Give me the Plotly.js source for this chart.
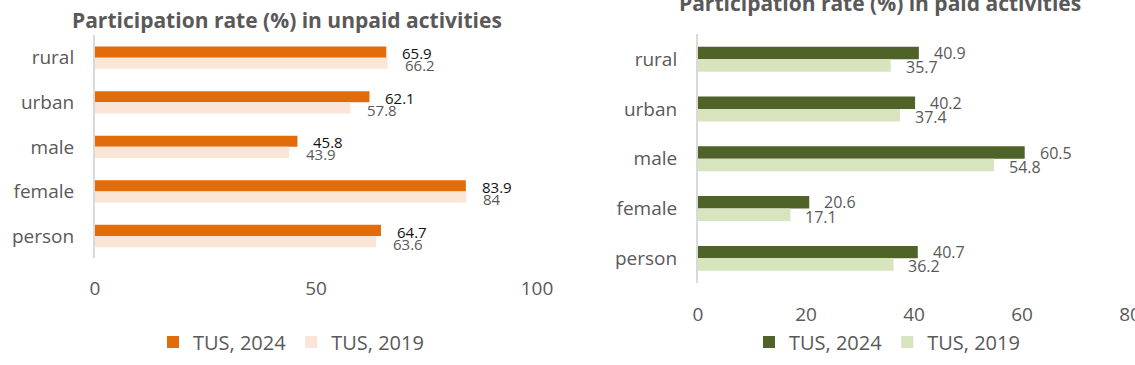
<!DOCTYPE html>
<html>
<head>
<meta charset="utf-8">
<script src="https://cdn.plot.ly/plotly-3.0.1.min.js"></script>
<style>html,body{margin:0;padding:0;background:#fff;}#chart{width:1135px;height:365px;}</style>
</head>
<body>
<div id="chart"></div>
<script>
const categories = ["rural", "urban", "male", "female", "person"];
const unpaid2024 = [65.9, 62.1, 45.8, 83.9, 64.7];
const unpaid2019 = [66.2, 57.8, 43.9, 84, 63.6];
const paid2024 = [40.9, 40.2, 60.5, 20.6, 40.7];
const paid2019 = [35.7, 37.4, 54.8, 17.1, 36.2];
const seriesNames = ["TUS, 2024", "TUS, 2019"];
const titles = ["Participation rate (%) in unpaid activities", "Participation rate (%) in paid activities"];

const FONT = "Open Sans, Noto Sans, sans-serif";
const GREY = "#595959";

const traces = [
  {type: "bar", orientation: "h", name: seriesNames[0], y: categories, x: unpaid2024, marker: {color: "#E36C0A"}, xaxis: "x", yaxis: "y", legend: "legend", hoverinfo: "none"},
  {type: "bar", orientation: "h", name: seriesNames[1], y: categories, x: unpaid2019, marker: {color: "#FBE5D6"}, xaxis: "x", yaxis: "y", legend: "legend", hoverinfo: "none"},
  {type: "bar", orientation: "h", name: seriesNames[0], y: categories, x: paid2024, marker: {color: "#4F6228"}, xaxis: "x2", yaxis: "y2", legend: "legend2", hoverinfo: "none"},
  {type: "bar", orientation: "h", name: seriesNames[1], y: categories, x: paid2019, marker: {color: "#D7E4BD"}, xaxis: "x2", yaxis: "y2", legend: "legend2", hoverinfo: "none"}
];

const annotations = [];
function addLabels(vals, xref, yref, shiftY, color, size, gap) {
  vals.forEach((v, i) => {
    annotations.push({x: v, y: categories[i], xref: xref, yref: yref, text: String(v), showarrow: false,
      xanchor: "left", yanchor: "middle", xshift: gap, yshift: shiftY,
      font: {family: FONT, size: size, color: color}});
  });
}
addLabels(unpaid2024, "x", "y", 4.4, "#111111", 15, 14);
addLabels(unpaid2019, "x", "y", -7.6, GREY, 15, 15);
addLabels(paid2024, "x2", "y2", 6.3, GREY, 16, 13);
addLabels(paid2019, "x2", "y2", -8, GREY, 16, 13);

annotations.push({text: "<b>" + titles[0] + "</b>", xref: "paper", yref: "paper", x: 287/1135, y: 1 - 20/365,
  xanchor: "center", yanchor: "middle", showarrow: false, font: {family: FONT, size: 21, color: GREY}});
annotations.push({text: "<b>" + titles[1] + "</b>", xref: "paper", yref: "paper", x: 880/1135, y: 1 - 3/365,
  xanchor: "center", yanchor: "middle", showarrow: false, font: {family: FONT, size: 21, color: GREY}});

const xCommon = {showgrid: false, zeroline: false, showline: false, ticks: "", ticklabeloverflow: "allow",
  tickfont: {family: FONT, size: 19, color: GREY}, fixedrange: true};
const yCommon = {type: "category", autorange: "reversed", showgrid: false, zeroline: false,
  showline: true, linecolor: "#D9D9D9", linewidth: 2, ticks: "", ticklabelstandoff: 15,
  tickfont: {family: FONT, size: 19, color: GREY}, fixedrange: true};

const layout = {
  width: 1135, height: 365,
  margin: {l: 0, r: 0, t: 0, b: 0},
  paper_bgcolor: "#fff", plot_bgcolor: "rgba(0,0,0,0)",
  barmode: "group",
  bargap: 0.5, bargroupgap: 0,
  xaxis: Object.assign({}, xCommon, {domain: [95/1135, 537/1135], range: [0, 100], tickvals: [0, 50, 100], anchor: "y", ticklabelstandoff: 17}),
  yaxis: Object.assign({}, yCommon, {domain: [1 - 258.3/365, 1 - 35.4/365], anchor: "x"}),
  xaxis2: Object.assign({}, xCommon, {domain: [698/1135, 1130/1135], range: [0, 80], tickvals: [0, 20, 40, 60, 80], anchor: "y2", ticklabelstandoff: 18}),
  yaxis2: Object.assign({}, yCommon, {domain: [1 - 283.2/365, 1 - 34.4/365], anchor: "x2"}),
  legend: {orientation: "h", x: 291/1135, xanchor: "center", y: 1 - 342/365, yanchor: "middle",
    font: {family: FONT, size: 20, color: GREY}, itemwidth: 30, traceorder: "normal"},
  legend2: {orientation: "h", x: 887/1135, xanchor: "center", y: 1 - 342/365, yanchor: "middle",
    font: {family: FONT, size: 20, color: GREY}, itemwidth: 30, traceorder: "normal"},
  annotations: annotations,
  showlegend: true
};

Plotly.newPlot("chart", traces, layout, {displayModeBar: false, staticPlot: true});
</script>
</body>
</html>
